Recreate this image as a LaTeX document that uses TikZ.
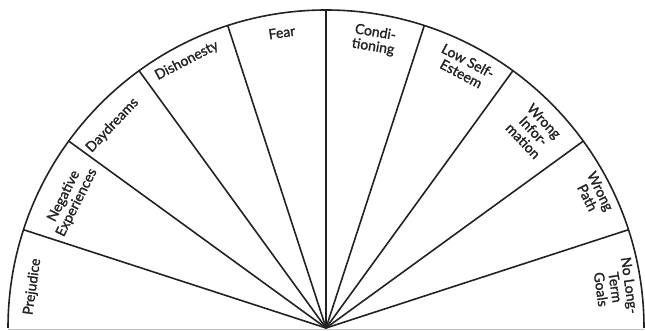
\documentclass[tikz,border=0pt]{standalone}
\usepackage{fontspec}
\setmainfont{Lato}[FakeBold=1.4]
\definecolor{fanline}{HTML}{222222}
\definecolor{fanbase}{HTML}{C4C4C4}

\begin{document}
\begin{tikzpicture}[x=1pt,y=1pt,
  spoke/.style={fanline,line width=1.6pt},
  lbl/.style={font=\fontsize{14}{14.5}\selectfont,text=fanline,align=center,inner sep=1pt,anchor=north}]
  \useasboundingbox (0,0) rectangle (645,330);
  \coordinate (o) at (326,2);
  \draw[fanbase] (8,1) -- (644,1);
  \draw[spoke] (644,2) arc (0:180:318);
  \foreach \a in {18,36,...,162}{\draw[spoke] (o) -- ([shift={(\a:318)}]o);}
  % labels: angle / radius / text
  \foreach \a/\r/\t in {172/304/Prejudice,153.3/301/{Negative\\Experiences},136.5/302/Daydreams,
    117.5/309/Dishonesty,98.5/305/Fear,80.5/307/{Condi-\\tioning},62/309/{Low Self-\\Esteem},
    43.5/307/{Wrong\\Infor-\\mation},26.5/313/{Wrong\\Path},8/313/{No Long-\\Term\\Goals}}{
    \node[lbl,rotate=\a-90] (lab\a) at ([shift={(\a:\r)}]o) {\t};}
\end{tikzpicture}
\end{document}
